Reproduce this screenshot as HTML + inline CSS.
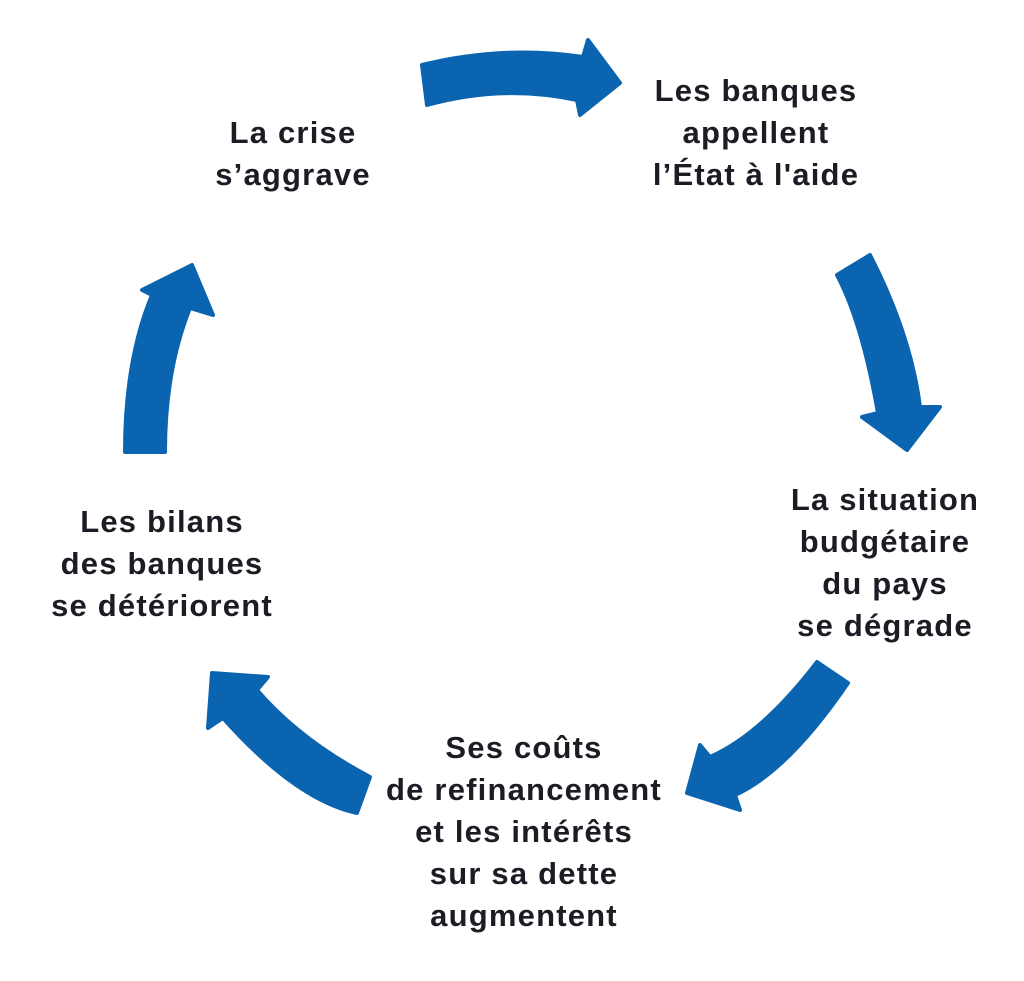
<!DOCTYPE html>
<html><head><style>
body{margin:0;background:#fff}
.w{position:relative;width:1024px;height:981px;overflow:hidden}
svg{position:absolute;left:0;top:0}
.t{position:absolute;font-family:"Liberation Sans",sans-serif;font-weight:bold;font-size:31px;letter-spacing:1.2px;line-height:42px;color:#1c1c24;text-align:center;width:400px;transform:translateX(-200px)}
</style></head><body><div class="w">
<svg width="1024" height="981"><g fill="#0a64b0" stroke="#0a64b0" stroke-width="4" stroke-linejoin="round">
<path d="M422,65 Q503,45 583,57 L588,40 L620,83 L580,115 L577,100 Q503,84 427,105 Z"/>
<path d="M837,275 L870,255 Q911,335 920,407 L940,407 L907,450 L862,417 L878,413 Q862,322 837,275 Z"/>
<path d="M817,662 L848,683 Q788,771 735,795 L740,810 L687,793 L700,745 L710,757 Q762,734 817,662 Z"/>
<path d="M212,673 L268,677 L257,690 Q300,740 370,777 L357,813 Q296,800 223,718 L208,728 Z"/>
<path d="M125,452 Q125,360 152,295 L142,290 L192,265 L213,315 L190,308 Q165,370 165,452 Z"/>
</g></svg>
<div class="t" style="left:293px;top:112px">La crise<br>s’aggrave</div>
<div class="t" style="left:756px;top:70px">Les banques<br>appellent<br>l’État à l'aide</div>
<div class="t" style="left:885px;top:479px">La situation<br>budgétaire<br>du pays<br>se dégrade</div>
<div class="t" style="left:524px;top:727px">Ses coûts<br>de refinancement<br>et les intérêts<br>sur sa dette<br>augmentent</div>
<div class="t" style="left:162px;top:501px">Les bilans<br>des banques<br>se détériorent</div>
</div></body></html>
